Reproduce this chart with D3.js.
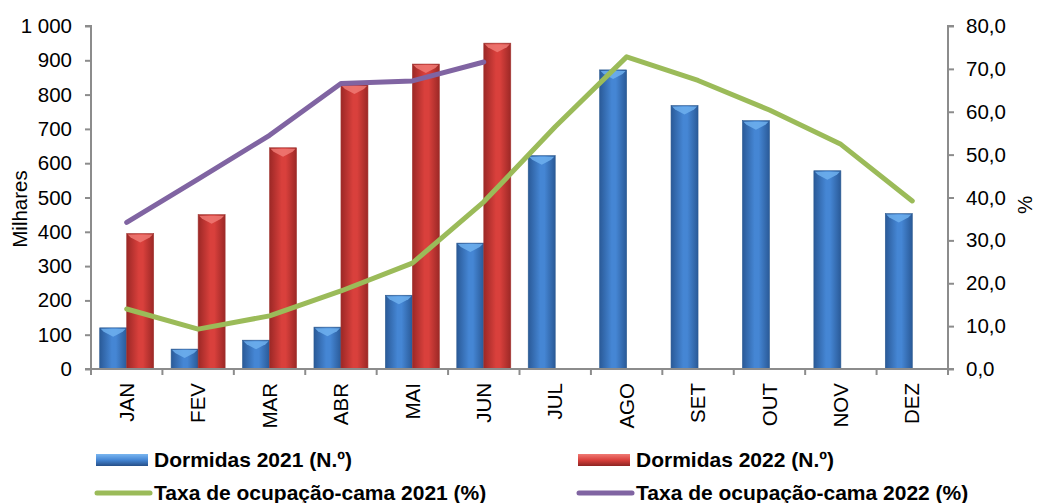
<!DOCTYPE html>
<html>
<head>
<meta charset="utf-8">
<script src="https://cdn.jsdelivr.net/npm/d3@7"></script>
<style>
  body { margin: 0; background: #fff; }
  text { font-family: "Liberation Sans", Arial, sans-serif; }
</style>
</head>
<body>
<svg id="chart" width="1037" height="503"></svg>
<script>
var months = ["JAN","FEV","MAR","ABR","MAI","JUN","JUL","AGO","SET","OUT","NOV","DEZ"];
var dormidas2021 = [120, 58, 84, 122, 215, 367, 622, 872, 768, 724, 578, 453];
var dormidas2022 = [395, 450, 645, 828, 889, 950];
var taxa2021 = [14.0, 9.3, 12.4, 18.2, 24.7, 39.0, 56.5, 72.8, 67.3, 60.4, 52.4, 39.2];
var taxa2022 = [34.2, 44.3, 54.5, 66.6, 67.2, 71.6];
var leftTicks = [0,100,200,300,400,500,600,700,800,900,1000];
var rightTicks = [0,10,20,30,40,50,60,70,80];

var margins = {top: 26, bot: 369, left: 91, right: 948};
var svg = d3.select("#chart");

var xScale = d3.scaleBand()
  .domain(months)
  .range([margins.left, margins.right]);
var yScale = d3.scaleLinear().domain([0, 1000]).range([margins.bot, margins.top]);
var pScale = d3.scaleLinear().domain([0, 80]).range([margins.bot, margins.top]);

// gradients
var defs = svg.append("defs");
function grad(id, edge, mid){
  var g = defs.append("linearGradient").attr("id", id)
    .attr("x1","0").attr("x2","1").attr("y1","0").attr("y2","0");
  g.append("stop").attr("offset","0").attr("stop-color", edge);
  g.append("stop").attr("offset","0.45").attr("stop-color", mid);
  g.append("stop").attr("offset","0.6").attr("stop-color", mid);
  g.append("stop").attr("offset","1").attr("stop-color", edge);
}
grad("gBlue", "#2a5a98", "#4586d4");
grad("gRed", "#9c2826", "#d9403c");

var barW = 27;
function drawBars(data, offset, fill, cap, stroke){
  var g = svg.append("g");
  var sel = g.selectAll("g.bar").data(data).enter().append("g");
  sel.append("rect")
    .attr("x", function(d,i){ return xScale(months[i]) + xScale.bandwidth()/2 + offset; })
    .attr("y", function(d){ return yScale(d); })
    .attr("width", barW)
    .attr("height", function(d){ return margins.bot - yScale(d); })
    .attr("fill", fill)
    .attr("stroke", stroke)
    .attr("stroke-width", 0.6);
  sel.append("path")
    .attr("d", function(d,i){
      var x0 = xScale(months[i]) + xScale.bandwidth()/2 + offset;
      var y0 = yScale(d);
      return "M" + (x0+1) + "," + (y0+1) + "L" + (x0+barW-1) + "," + (y0+1) +
             "L" + (x0+barW-4) + "," + (y0+4) + "L" + (x0+barW/2) + "," + (y0+9) +
             "L" + (x0+4) + "," + (y0+4) + "Z";
    })
    .attr("fill", cap)
    .attr("opacity", 0.85);
}
drawBars(dormidas2021, -barW, "url(#gBlue)", "#6fb0ef", "#2c5a90");
drawBars(dormidas2022, 0, "url(#gRed)", "#f07a74", "#a33a36");

// axes
var axisCol = "#8c8c8c";
var fs = 20.5;
var yAxis = d3.axisLeft(yScale).tickValues(leftTicks).tickSize(6)
  .tickFormat(function(d){ return d === 1000 ? "1 000" : String(d); });
var gy = svg.append("g").attr("transform","translate(" + margins.left + ",0)").call(yAxis);

var pAxis = d3.axisRight(pScale).tickValues(rightTicks).tickSize(6)
  .tickFormat(function(d){ return d3.format(".1f")(d).replace(".", ","); });
var gp = svg.append("g").attr("transform","translate(" + margins.right + ",0)").call(pAxis);

var xAxis = d3.axisBottom(xScale).tickSize(0);
var gx = svg.append("g").attr("transform","translate(0," + margins.bot + ")").call(xAxis);

// category separator ticks
svg.append("g").selectAll("line")
  .data(months.concat(["end"]))
  .enter().append("line")
  .attr("x1", function(d,i){ return margins.left + i*xScale.bandwidth(); })
  .attr("x2", function(d,i){ return margins.left + i*xScale.bandwidth(); })
  .attr("y1", margins.bot)
  .attr("y2", margins.bot + 6)
  .attr("stroke", axisCol).attr("stroke-width", 2);

[gy, gp, gx].forEach(function(g){
  g.select(".domain").attr("stroke", axisCol).attr("stroke-width", 2);
  g.selectAll(".tick line").attr("stroke", axisCol).attr("stroke-width", 2);
  g.selectAll("text").attr("font-size", fs).attr("fill", "#000")
   .attr("font-family", "Liberation Sans, Arial, sans-serif");
});
gy.select(".domain").attr("d", "M-6," + margins.top + "H0V" + margins.bot + "H-6");
gp.select(".domain").attr("d", "M6," + margins.top + "H0V" + margins.bot + "H6");
gy.selectAll("text").attr("x", -19);
gp.selectAll("text").attr("x", 18);
gx.select(".domain").attr("d", "M" + margins.left + ",0H" + margins.right);
gx.selectAll(".tick text")
  .attr("transform", "rotate(-90)")
  .attr("x", -14).attr("y", 0).attr("dy", "0.35em")
  .style("text-anchor", "end");

// lines
var line = function(data){
  return d3.line()
    .x(function(d,i){ return xScale(months[i]) + xScale.bandwidth()/2; })
    .y(function(d){ return pScale(d); })(data);
};
svg.append("path").attr("d", line(taxa2021)).attr("fill","none")
  .attr("stroke","#9bbb59").attr("stroke-width",5).attr("stroke-linejoin","round").attr("stroke-linecap","round");
svg.append("path").attr("d", line(taxa2022)).attr("fill","none")
  .attr("stroke","#8064a2").attr("stroke-width",5).attr("stroke-linejoin","round").attr("stroke-linecap","round");

// axis titles
svg.append("text").attr("transform","translate(27,209) rotate(-90)")
  .attr("text-anchor","middle").attr("font-size",fs).text("Milhares");
svg.append("text").attr("transform","translate(1032,205) rotate(-90)")
  .attr("text-anchor","middle").attr("font-size",fs).text("%");

// legend
var legend = [
  {label: "Dormidas 2021 (N.º)", x: 96, y: 460, type: "bar", fill: "url(#gBlueV)"},
  {label: "Dormidas 2022 (N.º)", x: 578, y: 460, type: "bar", fill: "url(#gRedV)"},
  {label: "Taxa de ocupação-cama 2021 (%)", x: 96, y: 493, type: "line", color: "#9bbb59"},
  {label: "Taxa de ocupação-cama 2022 (%)", x: 578, y: 493, type: "line", color: "#8064a2"}
];
function vgrad(id, top, mid, bot){
  var g = defs.append("linearGradient").attr("id", id)
    .attr("x1","0").attr("x2","0").attr("y1","0").attr("y2","1");
  g.append("stop").attr("offset","0").attr("stop-color", top);
  g.append("stop").attr("offset","0.5").attr("stop-color", mid);
  g.append("stop").attr("offset","1").attr("stop-color", bot);
}
vgrad("gBlueV", "#7ab6f0", "#4586d4", "#264f88");
vgrad("gRedV", "#f07a74", "#d9403c", "#8e2422");

legend.forEach(function(l){
  if(l.type === "bar"){
    svg.append("rect").attr("x", l.x).attr("y", l.y - 6).attr("width", 52).attr("height", 12)
      .attr("fill", l.fill);
  } else {
    svg.append("line").attr("x1", l.x + 1).attr("x2", l.x + 54).attr("y1", l.y).attr("y2", l.y)
      .attr("stroke", l.color).attr("stroke-width", 5).attr("stroke-linecap","round");
  }
  svg.append("text").attr("x", l.x + 58).attr("y", l.y + 7)
    .attr("font-size", 21).attr("font-weight", "bold").text(l.label);
});
</script>
</body>
</html>
